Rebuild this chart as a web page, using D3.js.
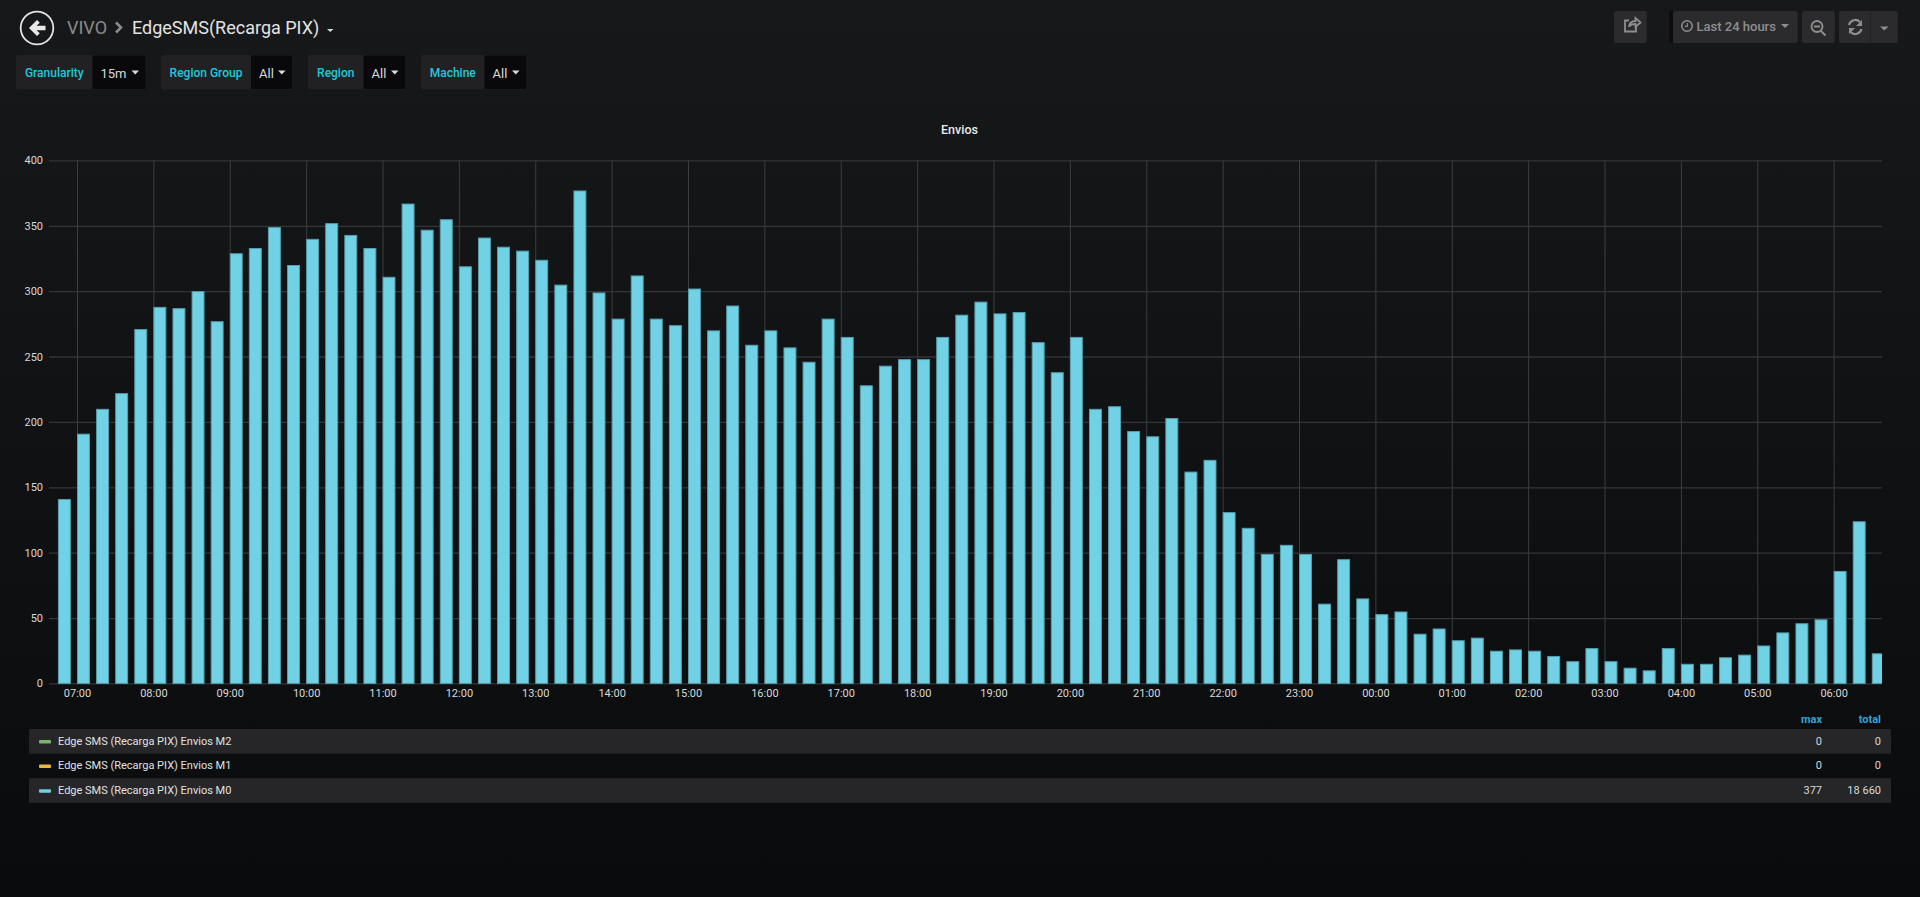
<!DOCTYPE html>
<html>
<head>
<meta charset="utf-8">
<title>EdgeSMS(Recarga PIX)</title>
<script src="https://cdnjs.cloudflare.com/ajax/libs/d3/7.8.5/d3.min.js"></script>
<style>
  html, body { margin: 0; padding: 0; background: #0b0c0e; overflow: hidden; }
  svg { display: block; }
  text { font-family: Roboto, "Liberation Sans", sans-serif; }
  .tick text { font-size: 11px; fill: #d8d9da; }
  .grid-x .tick line { stroke: #48494b; stroke-width: 0.8; }
  .grid-y .tick line { stroke: #343538; stroke-width: 1.3; }
</style>
</head>
<body>
<script>
// Envios M0, one bar per 15 minutes, starting at 06:45
const envios = [
  141, 191, 210, 222, 271, 288, 287, 300, 277, 329, 333, 349,
  320, 340, 352, 343, 333, 311, 367, 347, 355, 319, 341, 334,
  331, 324, 305, 377, 299, 279, 312, 279, 274, 302, 270, 289,
  259, 270, 257, 246, 279, 265, 228, 243, 248, 248, 265, 282,
  292, 283, 284, 261, 238, 265, 210, 212, 193, 189, 203, 162,
  171, 131, 119, 99, 106, 99, 61, 95, 65, 53, 55, 38,
  42, 33, 35, 25, 26, 25, 21, 17, 27, 17, 12, 10,
  27, 15, 15, 20, 22, 29, 39, 46, 49, 86, 124, 23,
];
const yTicks = [0, 50, 100, 150, 200, 250, 300, 350, 400];
const legendNames = [
  "Edge SMS (Recarga PIX) Envios M2",
  "Edge SMS (Recarga PIX) Envios M1",
  "Edge SMS (Recarga PIX) Envios M0",
];
const legendColors = ["#7eb26d", "#eab839", "#6ed0e0"];
const legendMax = [0, 0, 377];
const legendTotal = [0, 0, 18660];
const variables = [
  { label: "Granularity", value: "15m", x0: 16, x1: 92.5, x2: 145.5 },
  { label: "Region Group", value: "All", x0: 161, x1: 251, x2: 292 },
  { label: "Region", value: "All", x0: 308, x1: 363.5, x2: 405 },
  { label: "Machine", value: "All", x0: 421, x1: 484.5, x2: 526 },
];

const W = 1920;
const H = 897;
const margin = { top: 160.4, bottom: 213.6, left: 49, right: 38 };
const width = W - margin.left - margin.right;
const height = H - margin.top - margin.bottom;

const svg = d3.select("body").append("svg")
  .attr("width", W)
  .attr("height", H);

const defs = svg.append("defs");
const bg = defs.append("linearGradient")
  .attr("id", "page-bg")
  .attr("x1", 0).attr("y1", 0).attr("x2", 0).attr("y2", 1);
bg.append("stop").attr("offset", "0%").attr("stop-color", "#17181a");
bg.append("stop").attr("offset", "100%").attr("stop-color", "#0a0b0d");
defs.append("clipPath").attr("id", "plot-clip")
  .append("rect")
  .attr("width", width)
  .attr("height", height + 2);

svg.append("rect").attr("width", W).attr("height", H).attr("fill", "url(#page-bg)");

// ---- header ----
const header = svg.append("g");
header.append("circle")
  .attr("cx", 37).attr("cy", 28).attr("r", 16.3)
  .attr("fill", "none").attr("stroke", "#e3e3e3").attr("stroke-width", 1.8);
header.append("path")
  .attr("d", "M29 28 L37 20 L39.8 22.8 L36.6 25.8 H45.5 V30.2 H36.6 L39.8 33.2 L37 36 Z")
  .attr("fill", "#e9e9e9");
header.append("text").text("VIVO")
  .attr("x", 67).attr("y", 33.5)
  .attr("font-size", 18).attr("fill", "#8b8b8b");
header.append("path")
  .attr("d", "M116 22.5 L121 27.5 L116 32.5")
  .attr("fill", "none").attr("stroke", "#8b8b8b").attr("stroke-width", 2.6);
header.append("text").text("EdgeSMS(Recarga PIX)")
  .attr("x", 132).attr("y", 33.5)
  .attr("font-size", 18).attr("fill", "#e3e3e3");
header.append("path").attr("d", "M327 29 h6.5 l-3.25 3 Z").attr("fill", "#d8d9da");

// variable dropdowns
const vars = svg.append("g").selectAll("g").data(variables).join("g");
vars.append("rect")
  .attr("x", (d) => d.x0).attr("y", 55)
  .attr("width", (d) => d.x2 - d.x0).attr("height", 34.5).attr("rx", 2)
  .attr("fill", "#212124");
vars.append("rect")
  .attr("x", (d) => d.x1).attr("y", 55.5)
  .attr("width", (d) => d.x2 - d.x1).attr("height", 33.5)
  .attr("fill", "#09090b");
vars.append("text").text((d) => d.label)
  .attr("x", (d) => (d.x0 + d.x1) / 2).attr("y", 76.5)
  .attr("text-anchor", "middle")
  .attr("font-size", 12).attr("font-weight", 500).attr("fill", "#21c8dc");
vars.append("text").text((d) => d.value)
  .attr("x", (d) => d.x1 + 8).attr("y", 77.5)
  .attr("font-size", 13).attr("fill", "#d8d9da");
vars.append("path")
  .attr("d", (d) => `M${d.x2 - 14} 70.5 h7.5 l-3.75 4 Z`)
  .attr("fill", "#d8d9da");

// top right buttons
const buttons = [[1614, 1646.7], [1673, 1797.7], [1802, 1834.7], [1839, 1897.7]];
const nav = svg.append("g");
nav.append("rect").attr("x", 1669).attr("y", 11).attr("width", 4).attr("height", 32).attr("fill", "#0d0d0f");
nav.selectAll("rect.btn").data(buttons).join("rect")
  .attr("class", "btn")
  .attr("x", (d) => d[0]).attr("y", 11)
  .attr("width", (d) => d[1] - d[0]).attr("height", 32)
  .attr("rx", 2).attr("fill", "#2b2b2d");
nav.append("line").attr("x1", 1870.5).attr("x2", 1870.5).attr("y1", 11).attr("y2", 43).attr("stroke", "#232325");
const iconColor = "#8e8e8e";
// share
nav.append("path")
  .attr("d", "M1636 25 v6.5 h-11 v-11 h4 M1629 27 c0.5 -4 3 -6 6.5 -6 v-3 l5 4.5 l-5 4.5 v-3 c-2.5 0 -5 0.8 -6.5 2.5")
  .attr("fill", "none").attr("stroke", iconColor).attr("stroke-width", 1.8);
// clock
nav.append("circle").attr("cx", 1687).attr("cy", 26).attr("r", 5.2)
  .attr("fill", "none").attr("stroke", iconColor).attr("stroke-width", 1.5);
nav.append("path").attr("d", "M1687.3 23 v3.4 h-2.4")
  .attr("fill", "none").attr("stroke", iconColor).attr("stroke-width", 1.1);
nav.append("text").text("Last 24 hours")
  .attr("x", 1696.5).attr("y", 31)
  .attr("font-size", 13).attr("font-weight", 500).attr("fill", iconColor);
nav.append("path").attr("d", "M1781 24 h8 l-4 4 Z").attr("fill", iconColor);
// zoom out
nav.append("circle").attr("cx", 1817).attr("cy", 26.5).attr("r", 5.5)
  .attr("fill", "none").attr("stroke", iconColor).attr("stroke-width", 1.9);
nav.append("path").attr("d", "M1814 26.5 h6 M1821 31 l4.5 4.5")
  .attr("fill", "none").attr("stroke", iconColor).attr("stroke-width", 1.9);
// refresh
nav.append("path")
  .attr("d", "M1849 25 a6.5 6.5 0 0 1 11 -3 M1861.5 29 a6.5 6.5 0 0 1 -11 3")
  .attr("fill", "none").attr("stroke", iconColor).attr("stroke-width", 2.2);
nav.append("path").attr("d", "M1862 20 v6 h-6 Z M1849 34 v-6 h6 Z").attr("fill", iconColor);
nav.append("path").attr("d", "M1880 26.5 h8.5 l-4.25 4 Z").attr("fill", iconColor);

// ---- chart ----
svg.append("text").text("Envios")
  .attr("x", 959.5).attr("y", 134)
  .attr("text-anchor", "middle")
  .attr("font-size", 12.5).attr("font-weight", 500).attr("fill", "#e8e9ea");

const g = svg.append("g")
  .attr("transform", `translate(${margin.left}, ${margin.top})`);

const start = new Date(2021, 0, 15, 6, 38);
const end = d3.timeDay.offset(start, 1);
const firstBar = new Date(2021, 0, 15, 6, 45);
const times = envios.map((v, i) => d3.timeMinute.offset(firstBar, i * 15));

const xscale = d3.scaleTime().domain([start, end]).range([0, width]);
const yscale = d3.scaleLinear().domain([0, 400]).range([height, 0]);

const xaxis = d3.axisBottom(xscale)
  .ticks(d3.timeHour.every(1))
  .tickFormat(d3.timeFormat("%H:%M"))
  .tickSize(-height)
  .tickPadding(6);
const yaxis = d3.axisLeft(yscale)
  .tickValues(yTicks)
  .tickSize(-width)
  .tickPadding(6);

g.append("g").attr("class", "grid-x")
  .attr("transform", `translate(0,${height})`)
  .call(xaxis)
  .call((a) => a.select(".domain").remove());
g.append("g").attr("class", "grid-y")
  .call(yaxis)
  .call((a) => a.select(".domain").remove());

const barWidth = xscale(d3.timeSecond.offset(start, 610)) - xscale(start);
g.append("g")
  .attr("clip-path", "url(#plot-clip)")
  .selectAll("rect")
  .data(envios)
  .join("rect")
  .attr("x", (d, i) => xscale(times[i]) + 0.5)
  .attr("y", (d) => yscale(d) + 0.5)
  .attr("width", barWidth - 1)
  .attr("height", (d) => height - yscale(d) - 0.5)
  .attr("fill", "#70d2e4")
  .attr("stroke", "#559fae")
  .attr("stroke-width", 1);

// ---- legend ----
const legendTop = 729;
const rowH = 24.6;
const maxX = 1822;
const totalX = 1881;
const fmtTotal = (n) => d3.format(",")(n).replace(/,/g, " ");

const legend = svg.append("g");
legend.append("text").text("max")
  .attr("x", maxX).attr("y", 723).attr("text-anchor", "end")
  .attr("font-size", 11).attr("font-weight", 700).attr("fill", "#33a2d5");
legend.append("text").text("total")
  .attr("x", totalX).attr("y", 723).attr("text-anchor", "end")
  .attr("font-size", 11).attr("font-weight", 700).attr("fill", "#33a2d5");

const rows = legend.selectAll("g.row").data(legendNames).join("g")
  .attr("class", "row")
  .attr("transform", (d, i) => `translate(0,${legendTop + i * rowH})`);
rows.append("rect")
  .attr("x", 29).attr("width", 1862).attr("height", rowH)
  .attr("fill", (d, i) => (i % 2 === 0 ? "#262628" : "none"));
rows.append("rect")
  .attr("x", 39).attr("y", 11).attr("width", 12).attr("height", 3.5).attr("rx", 1)
  .attr("fill", (d, i) => legendColors[i]);
rows.append("text").text((d) => d)
  .attr("x", 58).attr("y", 15.5)
  .attr("font-size", 11).attr("fill", "#e0e1e2");
rows.append("text").text((d, i) => legendMax[i])
  .attr("x", maxX).attr("y", 15.5).attr("text-anchor", "end")
  .attr("font-size", 11).attr("fill", "#d8d9da");
rows.append("text").text((d, i) => fmtTotal(legendTotal[i]))
  .attr("x", totalX).attr("y", 15.5).attr("text-anchor", "end")
  .attr("font-size", 11).attr("fill", "#d8d9da");
</script>
</body>
</html>
